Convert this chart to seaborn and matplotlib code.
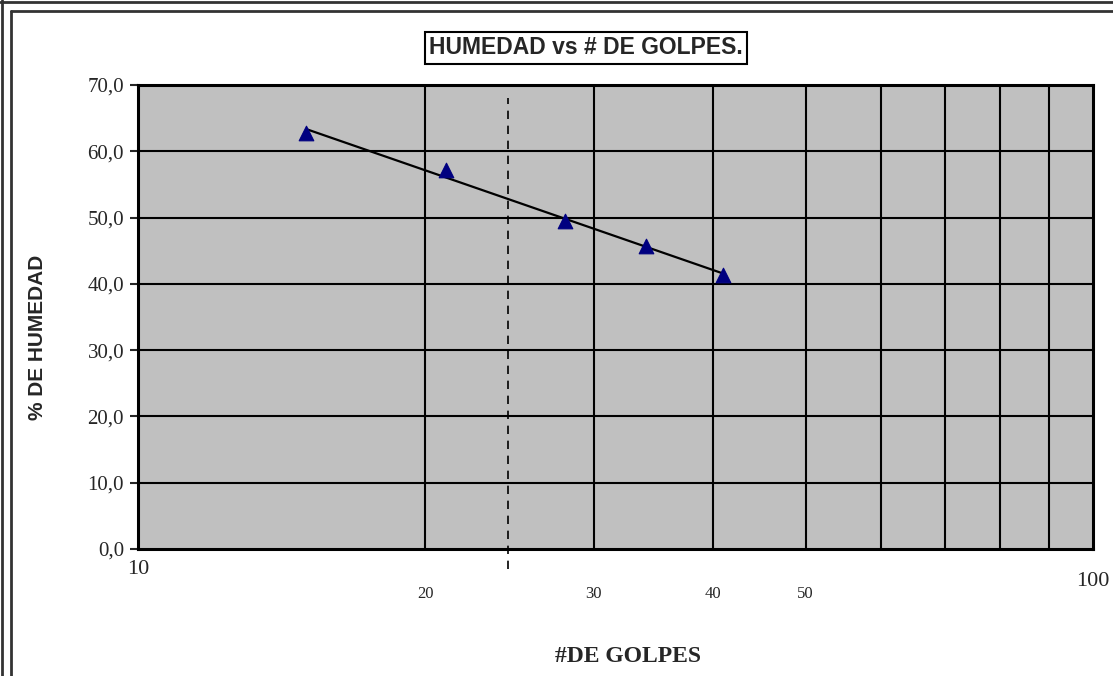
import numpy as np
import seaborn as sns
import matplotlib.pyplot as plt
import matplotlib.transforms as mtransforms
from matplotlib.lines import Line2D

golpes = [15, 21, 28, 34, 41]
humedad = [62.7, 57.2, 49.5, 45.7, 41.3]
golpes_ref = 24.4
y_ticks = [0, 10, 20, 30, 40, 50, 60, 70]
x_major = [10, 100]
x_minor = [20, 30, 40, 50, 60, 70, 80, 90]
x_minor_labels = ["20", "30", "40", "50", "", "", "", ""]

sns.set_style("white")
plt.rcParams['font.family'] = ['Liberation Serif', 'DejaVu Serif']

fig = plt.figure(figsize=(11.13, 6.76), dpi=100)
ax = fig.add_axes([138 / 1113, 1 - 549 / 676, 955 / 1113, 464 / 676])
ax.set_facecolor("#c0c0c0")

# logarithmic trend line like the Excel one
coef = np.polyfit(np.log(golpes), humedad, 1)
xt = np.linspace(min(golpes), max(golpes), 50)
yt = coef[0] * np.log(xt) + coef[1]

ax.set_xscale("log")
ax.set_xlim(10, 100)
ax.set_ylim(0, 70)

for v in x_minor:
    ax.axvline(v, color="black", lw=1.5, zorder=1)
for v in y_ticks[1:-1]:
    ax.axhline(v, color="black", lw=1.5, zorder=1)

ax.plot([golpes_ref, golpes_ref], [-3, 68], color="black", lw=1.2,
        ls=(0, (5, 4)), clip_on=False, zorder=2)

sns.lineplot(x=xt, y=yt, ax=ax, color="black", lw=1.6, zorder=3)
sns.scatterplot(x=golpes, y=humedad, ax=ax, marker="^", color="#000080",
                s=110, edgecolor="#000080", zorder=4)

ax.set_yticks(y_ticks)
ax.set_yticklabels([f"{v:.1f}".replace(".", ",") for v in y_ticks], fontsize=15)
ax.set_xticks(x_major)
ax.set_xticklabels(["10", "100"], fontsize=16)
ax.set_xticks(x_minor, minor=True)
ax.set_xticklabels(x_minor_labels, minor=True, fontsize=12)
ax.tick_params(axis="y", which="major", length=6, width=1.5, left=True, direction="out", pad=4)
ax.tick_params(axis="x", which="major", length=0, pad=8)
ax.tick_params(axis="x", which="minor", length=0, pad=27)

# "100" sits a little lower than "10"
lab100 = ax.get_xticklabels()[1]
lab100.set_transform(lab100.get_transform() + mtransforms.ScaledTranslation(0, -0.12, fig.dpi_scale_trans))

for s in ax.spines.values():
    s.set_color("black")
    s.set_linewidth(2.2)

ax.set_xlabel("#DE GOLPES", fontsize=17, fontweight="bold")
ax.set_ylabel("% DE HUMEDAD", fontsize=15, fontweight="bold",
              family=["Liberation Sans", "DejaVu Sans"])
ax.xaxis.set_label_coords((628 - 138) / 955, -(657 - 549) / 464)
ax.xaxis.label.set_va("center")
ax.yaxis.set_label_coords(-(138 - 38) / 955, (549 - 337) / 464)
ax.yaxis.label.set_va("center")

fig.text(586 / 1113, 1 - 48 / 676, "HUMEDAD vs # DE GOLPES.", ha="center", va="center",
         fontsize=16.5, fontweight="bold", family=["Liberation Sans", "DejaVu Sans"],
         bbox=dict(boxstyle="square,pad=0.2", fc="white", ec="black", lw=1.5))

# outer chart frame
for xy in [([0, 1], [1 - 1.5 / 676] * 2), ([11 / 1113, 1], [1 - 11 / 676] * 2),
           ([1.5 / 1113] * 2, [0, 1]), ([11 / 1113] * 2, [0, 1 - 11 / 676])]:
    fig.add_artist(Line2D(xy[0], xy[1], color="#333333", lw=2))

fig.savefig("out.png", dpi=100)
